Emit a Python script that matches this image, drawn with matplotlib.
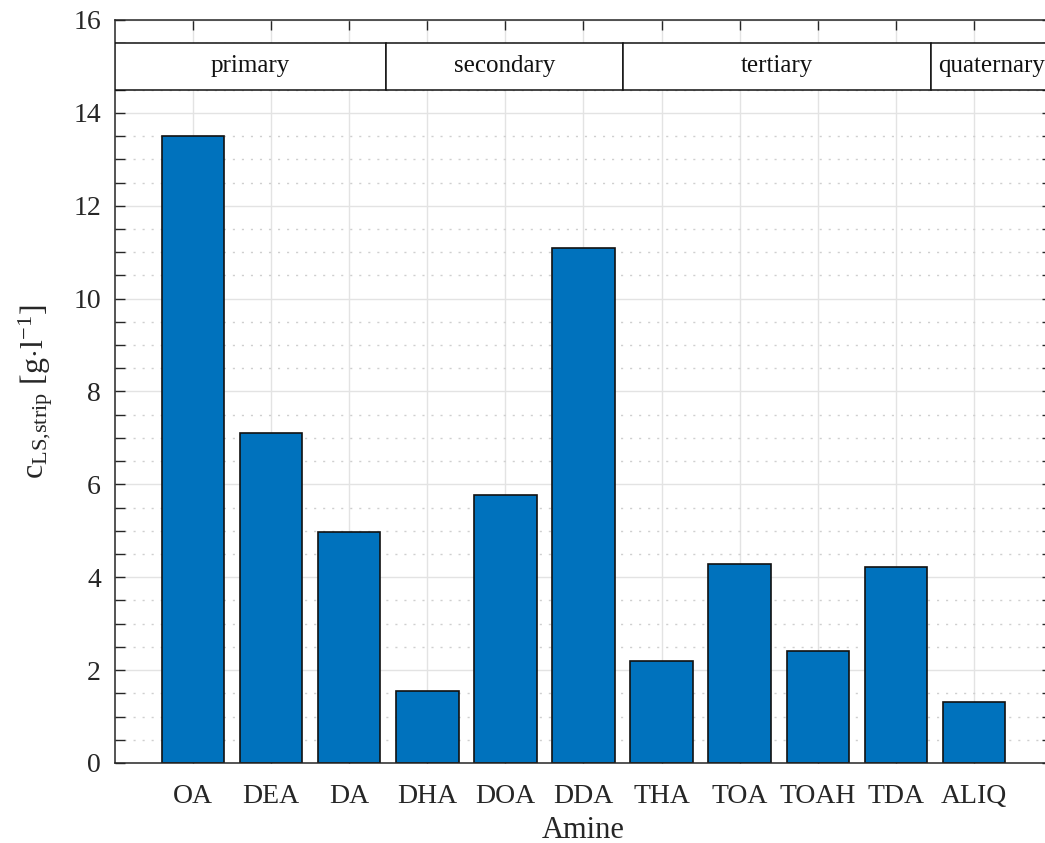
import matplotlib
matplotlib.use("Agg")
import matplotlib.pyplot as plt
from matplotlib.patches import Rectangle
from matplotlib.ticker import MultipleLocator

# Stripping concentration per amine extractant
amines = ["OA", "DEA", "DA", "DHA", "DOA", "DDA", "THA", "TOA", "TOAH", "TDA", "ALIQ"]
c_strip = [13.5, 7.1, 4.97, 1.55, 5.77, 11.08, 2.2, 4.28, 2.42, 4.21, 1.31]

# Amine classes shown as a header band: (name, left edge, right edge) in bar units
group_names = ["primary", "secondary", "tertiary", "quaternary"]
group_edges = [0.0, 3.47, 6.5, 10.45, 12.0]

plt.rcParams["font.family"] = ["Liberation Serif", "DejaVu Serif"]
plt.rcParams["mathtext.fontset"] = "custom"
plt.rcParams["mathtext.rm"] = "Liberation Serif"
plt.rcParams["mathtext.it"] = "Liberation Serif:italic"

W, H = 1045, 843
fig = plt.figure(figsize=(W / 100, H / 100), dpi=100)
ax = fig.add_axes([115 / W, (H - 763) / H, (1052 - 115) / W, (763 - 20) / H])

xpos = list(range(1, len(amines) + 1))
ax.bar(xpos, c_strip, width=0.8, color="#0072BD", edgecolor="#111111",
       linewidth=1.2, zorder=2)

ax.set_xlim(0, 12)
ax.set_ylim(0, 16)
ax.set_xticks(xpos)
ax.set_xticklabels(amines)
ax.yaxis.set_major_locator(MultipleLocator(2))
ax.yaxis.set_minor_locator(MultipleLocator(0.5))

ax.set_axisbelow(True)
ax.grid(True, which="major", color="#e3e3e3", linewidth=1.0, linestyle="-")
ax.grid(True, which="minor", axis="y", color="#cfcfcf", linewidth=1.0,
        linestyle=(0, (1.5, 5)))

ax.tick_params(axis="both", which="both", direction="in", top=True,
               right=True, length=7, width=1.0, color="#262626",
               labelcolor="#262626", labelsize=20)
ax.tick_params(axis="x", pad=15)
ax.tick_params(axis="y", pad=10)
for sp in ax.spines.values():
    sp.set_linewidth(1.1)
    sp.set_color("#262626")

# Header band with amine classes
y0, y1 = 14.5, 15.5
for name, left, right in zip(group_names, group_edges[:-1], group_edges[1:]):
    ax.add_patch(Rectangle((left, y0), right - left, y1 - y0,
                           facecolor="white", edgecolor="#111111",
                           linewidth=1.1, zorder=3))
    ax.text((left + right) / 2, (y0 + y1) / 2, name, ha="center",
            va="center", fontsize=18, color="#111111", zorder=4)

ax.set_xlabel("Amine", fontsize=22, color="#262626", labelpad=5)
ax.set_ylabel(r"c$_{\mathrm{LS{,}strip}}$ [g$\cdot$l$^{-1}$]", fontsize=23,
              color="#262626", labelpad=13)

fig.savefig("out.png", dpi=100)
